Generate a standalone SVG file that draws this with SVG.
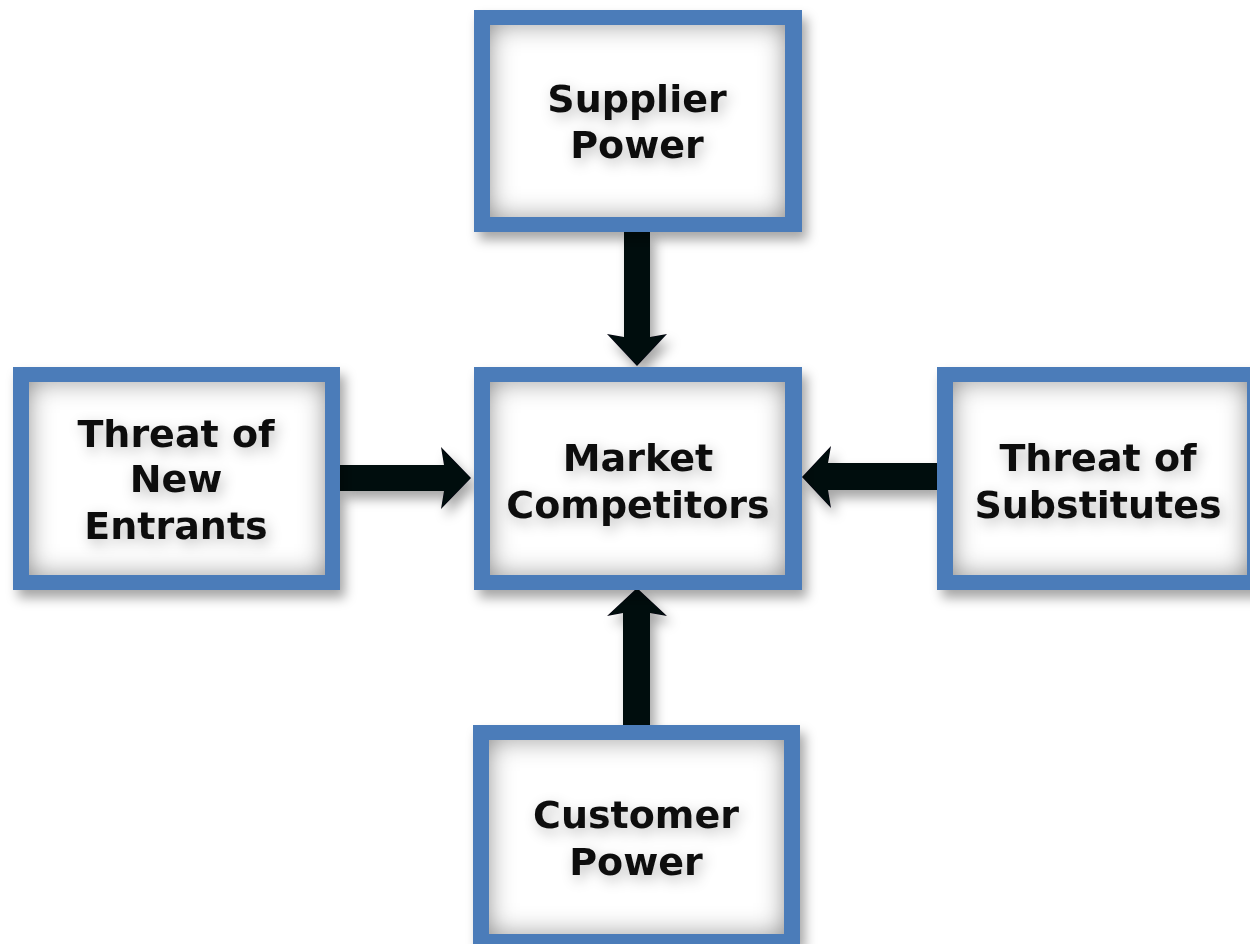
<svg xmlns="http://www.w3.org/2000/svg" width="1250" height="944" viewBox="0 0 1250 944">
  <defs>
    <filter id="drop" x="-20%" y="-20%" width="140%" height="140%">
      <feGaussianBlur in="SourceAlpha" stdDeviation="6"/>
      <feOffset dx="5" dy="8" result="b"/>
      <feFlood flood-color="#000" flood-opacity="0.35"/>
      <feComposite in2="b" operator="in" result="s"/>
      <feMerge><feMergeNode in="s"/><feMergeNode in="SourceGraphic"/></feMerge>
    </filter>
    <filter id="inner" x="-10%" y="-10%" width="120%" height="120%">
      <feFlood flood-color="#6e6e6e" result="f"/>
      <feComposite in="f" in2="SourceAlpha" operator="out" result="o"/>
      <feGaussianBlur in="o" stdDeviation="13" result="b"/>
      <feComposite in="b" in2="SourceAlpha" operator="in" result="s"/>
      <feMerge><feMergeNode in="SourceGraphic"/><feMergeNode in="s"/></feMerge>
    </filter>
    <filter id="glow" x="-20%" y="-30%" width="140%" height="160%">
      <feGaussianBlur in="SourceAlpha" stdDeviation="7"/>
      <feOffset dx="3" dy="5" result="b"/>
      <feFlood flood-color="#000" flood-opacity="0.25"/>
      <feComposite in2="b" operator="in" result="s"/>
      <feMerge><feMergeNode in="s"/><feMergeNode in="SourceGraphic"/></feMerge>
    </filter>
  </defs>
  <style>
    .frame { fill: #4b7cb9; }
    .fill { fill: #ffffff; }
    .lbl { font-family: "DejaVu Sans", Verdana, sans-serif; font-weight: bold; font-size: 38px; fill: #111111; text-anchor: middle; }
    .arrow { fill: #05070f; }
  </style>
  <rect width="1250" height="944" fill="#ffffff"/>

  <g id="connectors" filter="url(#drop)">
    <polygon class="arrow" points="624,232 650,232 650,337 667,334 637,366 607,334 624,337"/>
    <polygon class="arrow" points="340,465 444,465 441,447 471,478 441,509 444,491 340,491"/>
    <polygon class="arrow" points="937,463 828,463 831,446 802,477 831,508 828,490 937,490"/>
    <polygon class="arrow" points="623,725 650,725 650,613 667,616 637,588 607,616 623,613"/>
  </g>

  <g id="supplier">
    <g filter="url(#drop)"><rect class="frame" x="474" y="10" width="328" height="222"/></g>
    <rect class="fill" x="490" y="25" width="295" height="192" filter="url(#inner)"/>
    <g filter="url(#glow)">
      <text class="lbl" x="637" y="112">Supplier</text>
      <text class="lbl" x="637" y="158">Power</text>
    </g>
  </g>

  <g id="new-entrants">
    <g filter="url(#drop)"><rect class="frame" x="13" y="367" width="327" height="223"/></g>
    <rect class="fill" x="29" y="382" width="296" height="193" filter="url(#inner)"/>
    <g filter="url(#glow)">
      <text class="lbl" x="176" y="447">Threat of</text>
      <text class="lbl" x="176" y="492">New</text>
      <text class="lbl" x="176" y="539">Entrants</text>
    </g>
  </g>

  <g id="market">
    <g filter="url(#drop)"><rect class="frame" x="474" y="367" width="328" height="223"/></g>
    <rect class="fill" x="490" y="382" width="295" height="193" filter="url(#inner)"/>
    <g filter="url(#glow)">
      <text class="lbl" x="638" y="471">Market</text>
      <text class="lbl" x="638" y="518">Competitors</text>
    </g>
  </g>

  <g id="substitutes">
    <g filter="url(#drop)"><rect class="frame" x="937" y="367" width="327" height="223"/></g>
    <rect class="fill" x="953" y="382" width="294" height="193" filter="url(#inner)"/>
    <g filter="url(#glow)">
      <text class="lbl" x="1098" y="471">Threat of</text>
      <text class="lbl" x="1098" y="518">Substitutes</text>
    </g>
  </g>

  <g id="customer">
    <g filter="url(#drop)"><rect class="frame" x="473" y="725" width="327" height="219"/></g>
    <rect class="fill" x="489" y="740" width="295" height="194" filter="url(#inner)"/>
    <g filter="url(#glow)">
      <text class="lbl" x="636" y="828">Customer</text>
      <text class="lbl" x="636" y="875">Power</text>
    </g>
  </g>
</svg>
